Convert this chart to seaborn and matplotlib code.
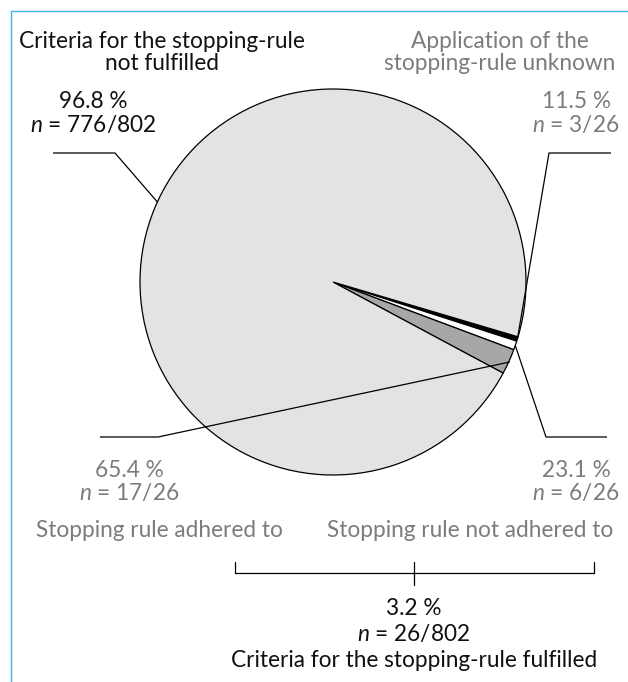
import matplotlib
matplotlib.use("Agg")
import numpy as np
import matplotlib.pyplot as plt
import seaborn as sns

# ---------------- data ----------------
groups = ["Criteria for the stopping-rule\nnot fulfilled",
          "Application of the\nstopping-rule unknown",
          "Stopping rule not adhered to",
          "Stopping rule adhered to"]
counts = [776, 3, 6, 17]          # main, unknown, not adhered, adhered
total = 802
fulfilled_label = "Criteria for the stopping-rule fulfilled"

sub_total = sum(counts[1:])       # 26

# ---------------- style ----------------
sns.set_theme(style="white")
plt.rcParams['font.family'] = ['Lato', 'DejaVu Sans']
plt.rcParams['mathtext.fontset'] = 'custom'
plt.rcParams['mathtext.it'] = 'Lato:italic'
plt.rcParams['mathtext.rm'] = 'Lato'

W, H = 628, 682
fig = plt.figure(figsize=(W / 100, H / 100), dpi=100)
ax = fig.add_axes([0, 0, 1, 1])


def Y(y):
    return H - y


BLACK = "#111111"
GREY_TXT = "#7c7c7c"
FS = 16.3
LW = 0.9

cx, cy, R = 333, Y(282), 193

# pie order clockwise from start: unknown, not adhered, adhered, main
pie_vals = [counts[1], counts[2], counts[3], counts[0]]
pie_cols = ["#000000", "#ffffff", "#a7a7a7", "#e3e3e3"]
wedges, _ = ax.pie(pie_vals, colors=pie_cols, startangle=-16.5, counterclock=False,
                   center=(cx, cy), radius=R, frame=False,
                   wedgeprops=dict(edgecolor="black", linewidth=LW))
ax.set_xlim(0, W)
ax.set_ylim(0, H)
ax.set_aspect('auto')
ax.axis('off')


def anchor(theta_deg, r=R):
    t = np.deg2rad(theta_deg)
    return cx + r * np.cos(t), cy + r * np.sin(t)


def mid(w):
    return 0.5 * (w.theta1 + w.theta2)


def callout(p_start, p_elbow, p_end):
    ax.plot([p_start[0], p_elbow[0], p_end[0]],
            [Y(p_start[1]), Y(p_elbow[1]), p_end[1]],
            color="black", lw=LW, solid_capstyle='butt', zorder=5)


w_unknown, w_notadh, w_adh, w_main = wedges
callout((53, 153), (115, 153), anchor(155.5))
callout((611, 153), (549, 153), anchor(mid(w_unknown)))
callout((100, 437), (158, 437), anchor(mid(w_adh), R + 1))
callout((607, 437), (546, 437), anchor(mid(w_notadh)))


def pct(a, b):
    return f"{100 * a / b:.1f} %"


def label(x, y, text, color, ha="center"):
    ax.text(x, Y(y), text, ha=ha, va="baseline", fontsize=FS, color=color,
            linespacing=1.0)


# titles
label(162, 48, groups[0].split("\n")[0], BLACK)
label(162, 70, groups[0].split("\n")[1], BLACK)
label(500, 48, groups[1].split("\n")[0], GREY_TXT)
label(500, 70, groups[1].split("\n")[1], GREY_TXT)

# percentages
label(93, 108, pct(counts[0], total), BLACK)
label(93, 132, rf"$n$ = {counts[0]}/{total}", BLACK)
label(576, 108, pct(counts[1], sub_total), GREY_TXT)
label(576, 132, rf"$n$ = {counts[1]}/{sub_total}", GREY_TXT)
label(129, 477, pct(counts[3], sub_total), GREY_TXT)
label(129, 500, rf"$n$ = {counts[3]}/{sub_total}", GREY_TXT)
label(576, 477, pct(counts[2], sub_total), GREY_TXT)
label(576, 500, rf"$n$ = {counts[2]}/{sub_total}", GREY_TXT)

label(159, 537, groups[3], GREY_TXT)
label(470, 537, groups[2], GREY_TXT)

# bracket
ax.plot([235, 235, 594, 594], [Y(562), Y(573), Y(573), Y(562)], color="black", lw=LW)
ax.plot([414, 414], [Y(562), Y(585)], color="black", lw=LW)

label(414, 615, pct(sub_total, total), BLACK)
label(414, 641, rf"$n$ = {sub_total}/{total}", BLACK)
label(414, 667, fulfilled_label, BLACK)

# frame lines (light blue)
ax.plot([11, 11, W], [0, Y(11), Y(11)], color="#3fb4e6", lw=1.0, solid_capstyle='butt')

fig.savefig("out.png", dpi=100, facecolor="white")
